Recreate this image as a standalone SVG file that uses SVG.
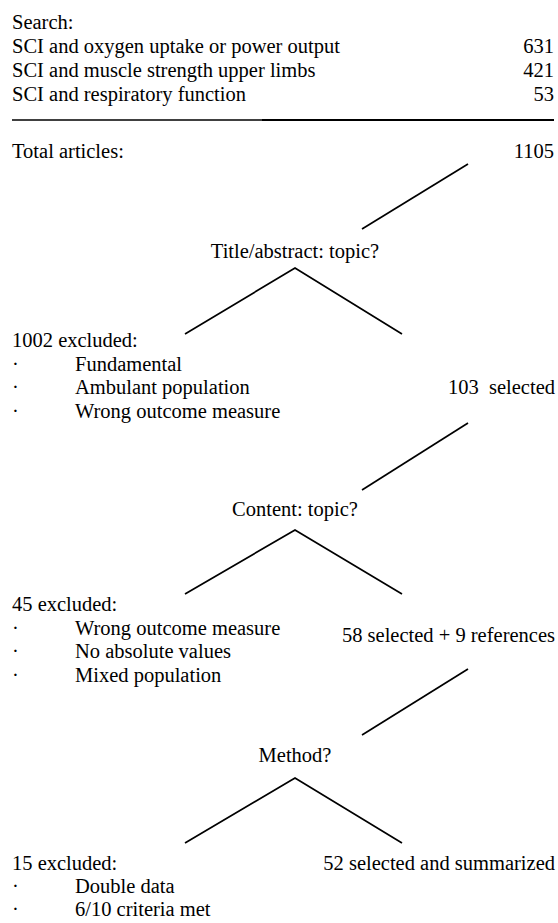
<svg xmlns="http://www.w3.org/2000/svg" width="558" height="923" viewBox="0 0 558 923">
<style>
text{font-family:"Liberation Serif","Times New Roman",serif;font-size:20.5px;fill:#000}
.r{text-anchor:end}
.c{text-anchor:middle}
.ln{stroke:#000;stroke-width:1.7;fill:none;stroke-linecap:butt}
</style>
<rect width="558" height="923" fill="#fff"/>
<g id="search">
<text x="12" y="29">Search:</text>
<text x="12" y="53">SCI and oxygen uptake or power output</text>
<text x="554" y="53" class="r">631</text>
<text x="12" y="77">SCI and muscle strength upper limbs</text>
<text x="554" y="77" class="r">421</text>
<text x="12" y="101">SCI and respiratory function</text>
<text x="554" y="101" class="r">53</text>
<line x1="12" y1="120" x2="262" y2="120" stroke="#000" stroke-width="1.5"/>
<line x1="262" y1="120" x2="554" y2="120" stroke="#000" stroke-width="2.2"/>
</g>
<g id="total">
<text x="12" y="158">Total articles:</text>
<text x="554" y="158" class="r">1105</text>
</g>
<g id="q1"><text x="295" y="258" class="c">Title/abstract: topic?</text></g>
<g id="excl1">
<text x="12" y="347">1002 excluded:</text>
<text x="12" y="370.5">·</text><text x="75" y="370.5">Fundamental</text>
<text x="12" y="394">·</text><text x="75" y="394">Ambulant population</text>
<text x="12" y="417.5">·</text><text x="75" y="417.5">Wrong outcome measure</text>
</g>
<g id="sel1"><text x="555" y="394" class="r" xml:space="preserve">103  selected</text></g>
<g id="q2"><text x="295" y="516" class="c">Content: topic?</text></g>
<g id="excl2">
<text x="12" y="611">45 excluded:</text>
<text x="12" y="634.5">·</text><text x="75" y="634.5">Wrong outcome measure</text>
<text x="12" y="658">·</text><text x="75" y="658">No absolute values</text>
<text x="12" y="681.5">·</text><text x="75" y="681.5">Mixed population</text>
</g>
<g id="sel2"><text x="555" y="642" class="r">58 selected + 9 references</text></g>
<g id="q3"><text x="295" y="762" class="c">Method?</text></g>
<g id="excl3">
<text x="12" y="870">15 excluded:</text>
<text x="12" y="893">·</text><text x="75" y="893">Double data</text>
<text x="12" y="916">·</text><text x="75" y="916">6/10 criteria met</text>
</g>
<g id="sel3"><text x="555" y="870" class="r">52 selected and summarized</text></g>
<g id="connectors">
<line class="ln" x1="468" y1="164" x2="362" y2="229"/>
<polyline class="ln" points="185,334 295,268 402,334"/>
<line class="ln" x1="468" y1="423" x2="362" y2="490"/>
<polyline class="ln" points="185,594 295,530 402,594"/>
<line class="ln" x1="468" y1="669" x2="362" y2="735"/>
<polyline class="ln" points="185,843 295,778 402,843"/>
</g>
</svg>
